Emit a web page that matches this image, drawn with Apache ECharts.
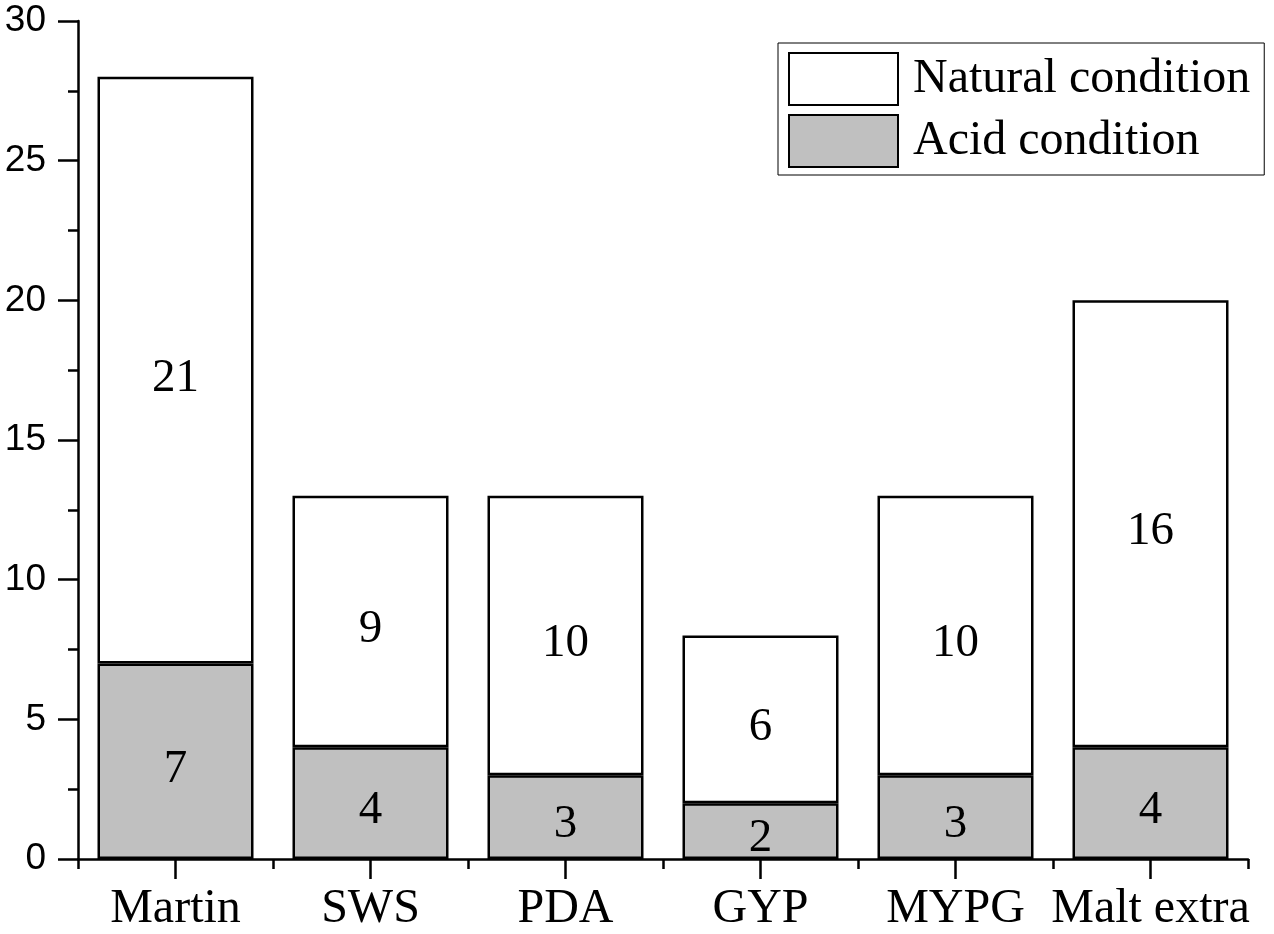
<!DOCTYPE html>
<html>
<head>
<meta charset="utf-8">
<script src="https://cdn.jsdelivr.net/npm/echarts@6/dist/echarts.min.js"></script>
<style>
  html, body { margin: 0; padding: 0; background: #fff; }
  #chart { width: 1274px; height: 934px; }
</style>
</head>
<body>
<div id="chart"></div>
<script>
    // categories and values
    var categories = ['Martin', 'SWS', 'PDA', 'GYP', 'MYPG', 'Malt extra'];
    var acidValues = [7, 4, 3, 2, 3, 4];
    var naturalValues = [21, 9, 10, 6, 10, 16];
    var yTicks = [0, 5, 10, 15, 20, 25, 30];

    var serif = '"Liberation Serif", "Times New Roman", serif';
    var sans = '"Liberation Sans", Arial, sans-serif';

    var myChart = echarts.init(document.getElementById('chart'));

    var barLabel = {
        show: true,
        position: 'inside',
        offset: [0, 8],
        color: '#000',
        fontFamily: serif,
        fontSize: 47
    };

    myChart.setOption({
        animation: false,
        backgroundColor: '#fff',
        grid: {left: 78, right: 26, top: 21, bottom: 75},
        legend: {
            orient: 'vertical',
            left: 778,
            top: 43,
            data: ['Natural condition', 'Acid condition'],
            icon: 'rect',
            itemWidth: 109,
            itemHeight: 52,
            itemGap: 8,
            padding: [9, 14, 7, 10],
            borderColor: '#000',
            borderWidth: 1,
            itemStyle: {borderColor: '#000', borderWidth: 2},
            textStyle: {
                color: '#000',
                fontFamily: serif,
                fontSize: 48,
                padding: [0, 0, 0, 10]
            }
        },
        xAxis: [
            {
                type: 'category',
                data: categories,
                axisLine: {lineStyle: {color: '#000', width: 2.5}},
                axisTick: {show: true, alignWithLabel: true, length: 20, lineStyle: {color: '#000', width: 2.5}},
                axisLabel: {color: '#000', fontFamily: serif, fontSize: 48, margin: 26, interval: 0}
            },
            {
                // boundary ticks between categories
                type: 'category',
                data: categories,
                position: 'bottom',
                axisLine: {show: false},
                axisTick: {show: true, interval: 0, length: 10, lineStyle: {color: '#000', width: 2.5}},
                axisLabel: {show: false}
            }
        ],
        yAxis: {
            type: 'value',
            min: yTicks[0],
            max: yTicks[yTicks.length - 1],
            interval: 5,
            axisLine: {show: true, lineStyle: {color: '#000', width: 2.5}},
            axisTick: {show: true, length: 20, lineStyle: {color: '#000', width: 2.5}},
            minorTick: {show: true, splitNumber: 2, length: 10, lineStyle: {color: '#000', width: 2.5}},
            splitLine: {show: false},
            axisLabel: {color: '#000', fontFamily: sans, fontSize: 37, margin: 32}
        },
        series: [
            {
                name: 'Acid condition',
                type: 'bar',
                stack: 'total',
                xAxisIndex: 0,
                barWidth: '80%',
                data: acidValues,
                itemStyle: {color: '#c0c0c0', borderColor: '#000', borderWidth: 2.5},
                label: barLabel
            },
            {
                name: 'Natural condition',
                type: 'bar',
                stack: 'total',
                xAxisIndex: 0,
                barWidth: '80%',
                data: naturalValues,
                itemStyle: {color: '#fff', borderColor: '#000', borderWidth: 2.5},
                label: barLabel
            }
        ]
    });
</script>
</body>
</html>
